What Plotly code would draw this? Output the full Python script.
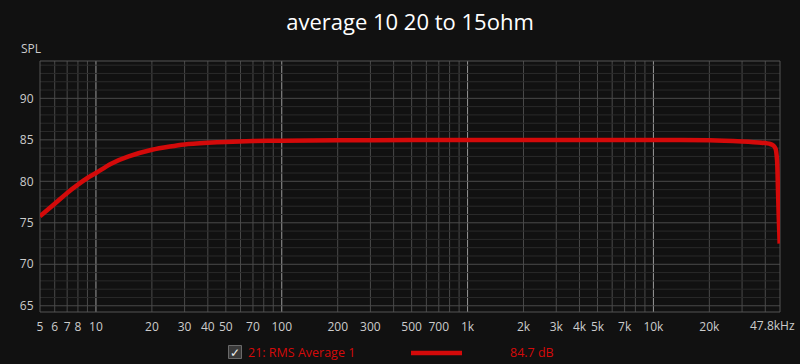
import plotly.graph_objects as go
import numpy as np

# ---- data ----
freq_hz = [5, 6, 7, 8, 9, 10, 12, 15, 20, 25, 30, 40, 50, 70, 100, 200, 500,
           1000, 5000, 10000, 20000, 30000, 38000, 42500, 44300, 45500, 46300,
           46800, 47300, 47800]
spl_db = [75.8, 77.3, 78.6, 79.6, 80.4, 81.0, 82.1, 83.0, 83.8, 84.2, 84.45,
          84.65, 84.75, 84.85, 84.9, 84.95, 84.97, 84.97, 84.97, 84.97, 84.95,
          84.8, 84.65, 84.5, 84.3, 83.9, 82.5, 79.0, 75.5, 72.5]

x_tick_vals = [5, 6, 7, 8, 10, 20, 30, 40, 50, 70, 100, 200, 300, 500, 700,
               1000, 2000, 3000, 4000, 5000, 7000, 10000, 20000]
x_tick_text = ["5", "6", "7", "8", "10", "20", "30", "40", "50", "70", "100",
               "200", "300", "500", "700", "1k", "2k", "3k", "4k", "5k", "7k",
               "10k", "20k"]
x_end_label = "47.8kHz"
y_tick_vals = [65, 70, 75, 80, 85, 90]

title_text = "average 10 20 to 15ohm"
legend_name = "21: RMS Average 1"
legend_value = "84.7 dB"

x_min, x_max = 5, 48000
y_min, y_max = 64.25, 94.5

# ---- layout geometry ----
W, H = 800, 364
ml, mr, mt, mb = 40, 20, 61, 52
pw, ph = W - ml - mr, H - mt - mb

def px(xp):
    return (xp - ml) / pw

def py(yp):
    return (H - mb - yp) / ph

bg = "#111111"
red = "#d40a0a"
txt = "#cccccc"
fam = "Open Sans, Noto Sans, sans-serif"

fig = go.Figure()
fig.add_trace(go.Scatter(x=freq_hz, y=spl_db, mode="lines",
                         line=dict(color=red, width=4.5, shape="spline", smoothing=0.6),
                         hoverinfo="skip", showlegend=False))

shapes = []
# vertical grid lines
minor_x = []
for dec in [1, 10, 100, 1000, 10000]:
    for m in range(2, 10):
        v = m * dec
        if x_min < v < x_max:
            minor_x.append(v)
major_x = [10, 100, 1000, 10000]
for v in minor_x:
    if v in major_x:
        continue
    shapes.append(dict(type="line", xref="x", yref="paper", x0=v, x1=v, y0=0, y1=1,
                       line=dict(color="#4a4a4a", width=1), layer="below"))
for v in major_x:
    shapes.append(dict(type="line", xref="x", yref="paper", x0=v, x1=v, y0=0, y1=1,
                       line=dict(color="#9a9a9a", width=1), layer="below"))
# horizontal grid lines
for v in range(65, 95):
    col = "#4a4a4a" if v % 5 == 0 else "#2a2a2a"
    shapes.append(dict(type="line", xref="paper", yref="y", x0=0, x1=1, y0=v, y1=v,
                       line=dict(color=col, width=1), layer="below"))
# plot frame
shapes.append(dict(type="rect", xref="paper", yref="paper", x0=0, x1=1, y0=0, y1=1,
                   line=dict(color="#555555", width=1), layer="below"))
# legend: checkbox
shapes.append(dict(type="rect", xref="paper", yref="paper",
                   x0=px(228.5), x1=px(241.5), y0=py(358.5), y1=py(345.5),
                   line=dict(color="#6a6a6a", width=1), fillcolor="#3a3a3a", layer="above"))
# legend: line sample
shapes.append(dict(type="line", xref="paper", yref="paper",
                   x0=px(411), x1=px(462), y0=py(353), y1=py(353),
                   line=dict(color=red, width=4.5), layer="above"))

annotations = [
    dict(text="SPL", xref="paper", yref="paper", x=px(19), y=py(48), showarrow=False,
         xanchor="left", yanchor="middle", font=dict(size=12, color=txt)),
    dict(text=x_end_label, xref="paper", yref="paper", x=px(797), y=py(325), showarrow=False,
         xanchor="right", yanchor="middle", font=dict(size=12, color=txt)),
    dict(text="✓", xref="paper", yref="paper", x=px(235), y=py(352), showarrow=False,
         xanchor="center", yanchor="middle", font=dict(size=12, color="#eeeeee")),
    dict(text=legend_name, xref="paper", yref="paper", x=px(246), y=py(352), showarrow=False,
         xanchor="left", yanchor="middle", font=dict(size=12.5, color=red)),
    dict(text=legend_value, xref="paper", yref="paper", x=px(508), y=py(352), showarrow=False,
         xanchor="left", yanchor="middle", font=dict(size=12.5, color=red)),
]

fig.update_layout(
    width=W, height=H,
    margin=dict(l=ml, r=mr, t=mt, b=mb),
    paper_bgcolor=bg, plot_bgcolor=bg,
    font=dict(family=fam, color=txt, size=12),
    title=dict(text=title_text, x=0.5, xref="paper", y=1 - 22 / H, yanchor="middle",
               font=dict(size=22, color="#ffffff")),
    xaxis=dict(type="log", range=[np.log10(x_min), np.log10(x_max)],
               tickvals=x_tick_vals, ticktext=x_tick_text, showgrid=False,
               zeroline=False, ticks="outside", ticklen=4, tickcolor=bg,
               tickfont=dict(size=12, color=txt), showline=False, fixedrange=True),
    yaxis=dict(range=[y_min, y_max], tickvals=y_tick_vals, showgrid=False,
               zeroline=False, ticks="outside", ticklen=3, tickcolor=bg,
               tickfont=dict(size=12, color=txt), showline=False, fixedrange=True),
    shapes=shapes, annotations=annotations, showlegend=False,
)

fig.write_html("out.html")
